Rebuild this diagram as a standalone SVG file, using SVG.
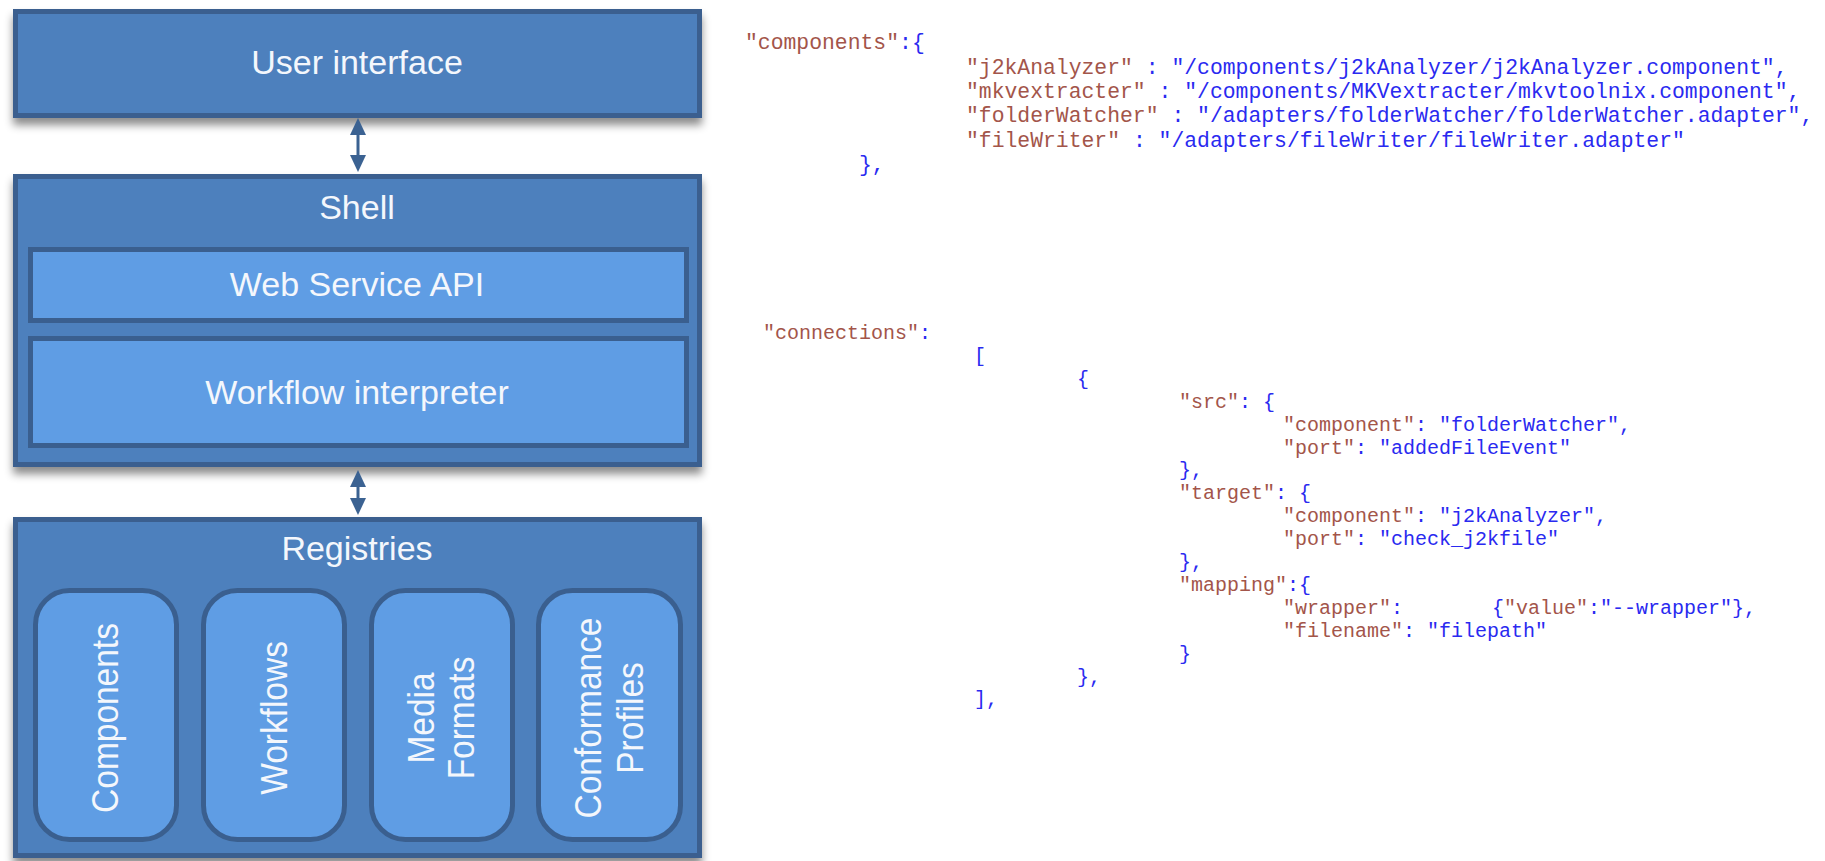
<svg xmlns="http://www.w3.org/2000/svg" width="1825" height="861" viewBox="0 0 1825 861">
<defs>
<filter id="shadow" x="-5%" y="-10%" width="110%" height="130%">
<feDropShadow dx="0" dy="7" stdDeviation="4" flood-color="#000" flood-opacity="0.45"/>
</filter>
<marker id="head" viewBox="0 0 17 16" refX="0" refY="8" markerWidth="17" markerHeight="16" markerUnits="userSpaceOnUse" orient="auto-start-reverse">
<path d="M0,0 L17,8 L0,16 z" fill="#3b6292"/>
</marker>
</defs>
<style>
.outer{fill:#4d80bd;stroke:#3a5f8f;stroke-width:5}
.inner{fill:#5f9de4;stroke:#3a5f8f;stroke-width:5}
.lbl{font-family:"Liberation Sans",Arial,sans-serif;font-size:34px;fill:#f4f7fc;text-anchor:middle}
.vl{font-family:"Liberation Sans",Arial,sans-serif;font-size:37px;fill:#f4f7fc;text-anchor:middle}
.conn{stroke:#3b6292;stroke-width:3;fill:none;marker-start:url(#head);marker-end:url(#head)}
.code1{font-family:"Liberation Mono","Courier New",monospace;font-size:21.4px;white-space:pre}
.code2{font-family:"Liberation Mono","Courier New",monospace;font-size:20px;white-space:pre}
.k{fill:#a3554a}
.b{fill:#2a2af0}
</style>

<g id="user-interface">
<rect class="outer" x="15.5" y="11.5" width="684" height="104" filter="url(#shadow)"/>
<text class="lbl" x="357" y="74">User interface</text>
</g>

<g id="shell">
<rect class="outer" x="15.5" y="176.5" width="684" height="288" filter="url(#shadow)"/>
<text class="lbl" x="357" y="219">Shell</text>
</g>
<g id="web-service-api">
<rect class="inner" x="30.5" y="249.5" width="656" height="71"/>
<text class="lbl" x="357" y="296">Web Service API</text>
</g>
<g id="workflow-interpreter">
<rect class="inner" x="30.5" y="338.5" width="656" height="107"/>
<text class="lbl" x="357" y="404">Workflow interpreter</text>
</g>

<g id="registries">
<rect class="outer" x="15.5" y="519.5" width="684" height="336" filter="url(#shadow)"/>
<text class="lbl" x="357" y="560">Registries</text>
</g>
<g id="components">
<rect class="inner" x="35.5" y="590.5" width="141" height="249" rx="34"/>
<text class="vl" transform="translate(118,718) rotate(-90) scale(0.905,1)">Components</text>
</g>
<g id="workflows">
<rect class="inner" x="203.5" y="590.5" width="141" height="249" rx="34"/>
<text class="vl" transform="translate(287,718) rotate(-90) scale(0.905,1)">Workflows</text>
</g>
<g id="media-formats">
<rect class="inner" x="371.5" y="590.5" width="141" height="249" rx="34"/>
<text class="vl" transform="translate(434,718) rotate(-90) scale(0.905,1)">Media</text>
<text class="vl" transform="translate(474,718) rotate(-90) scale(0.905,1)">Formats</text>
</g>
<g id="conformance-profiles">
<rect class="inner" x="538.5" y="590.5" width="142" height="249" rx="34"/>
<text class="vl" transform="translate(601,718) rotate(-90) scale(0.905,1)">Conformance</text>
<text class="vl" transform="translate(643,718) rotate(-90) scale(0.905,1)">Profiles</text>
</g>

<g id="connectors">
<line class="conn" x1="358" y1="135" x2="358" y2="155"/>
<line class="conn" x1="358" y1="487" x2="358" y2="498"/>
</g>

<g id="code-components" class="code1">
<text x="745" y="49"><tspan class="k">"components"</tspan><tspan class="b">:{</tspan></text>
<text x="966" y="74"><tspan class="k">"j2kAnalyzer"</tspan><tspan class="b"> : "/components/j2kAnalyzer/j2kAnalyzer.component",</tspan></text>
<text x="966" y="98"><tspan class="k">"mkvextracter"</tspan><tspan class="b"> : "/components/MKVextracter/mkvtoolnix.component",</tspan></text>
<text x="966" y="122"><tspan class="k">"folderWatcher"</tspan><tspan class="b"> : "/adapters/folderWatcher/folderWatcher.adapter",</tspan></text>
<text x="966" y="147"><tspan class="k">"fileWriter"</tspan><tspan class="b"> : "/adapters/fileWriter/fileWriter.adapter"</tspan></text>
<text x="859" y="171" class="b">},</text>
</g>

<g id="code-connections" class="code2">
<text x="763" y="339"><tspan class="k">"connections"</tspan><tspan class="b">:</tspan></text>
<text x="974" y="362" class="b">[</text>
<text x="1077" y="385" class="b">{</text>
<text x="1179" y="408"><tspan class="k">"src"</tspan><tspan class="b">: {</tspan></text>
<text x="1283" y="431"><tspan class="k">"component"</tspan><tspan class="b">: "folderWatcher",</tspan></text>
<text x="1283" y="454"><tspan class="k">"port"</tspan><tspan class="b">: "addedFileEvent"</tspan></text>
<text x="1179" y="476" class="b">},</text>
<text x="1179" y="499"><tspan class="k">"target"</tspan><tspan class="b">: {</tspan></text>
<text x="1283" y="522"><tspan class="k">"component"</tspan><tspan class="b">: "j2kAnalyzer",</tspan></text>
<text x="1283" y="545"><tspan class="k">"port"</tspan><tspan class="b">: "check_j2kfile"</tspan></text>
<text x="1179" y="568" class="b">},</text>
<text x="1179" y="591"><tspan class="k">"mapping"</tspan><tspan class="b">:{</tspan></text>
<text x="1283" y="614"><tspan class="k">"wrapper"</tspan><tspan class="b">:</tspan></text>
<text x="1492" y="614"><tspan class="b">{</tspan><tspan class="k">"value"</tspan><tspan class="b">:"--wrapper"},</tspan></text>
<text x="1283" y="637"><tspan class="k">"filename"</tspan><tspan class="b">: "filepath"</tspan></text>
<text x="1179" y="660" class="b">}</text>
<text x="1077" y="683" class="b">},</text>
<text x="974" y="705" class="b">],</text>
</g>
</svg>
